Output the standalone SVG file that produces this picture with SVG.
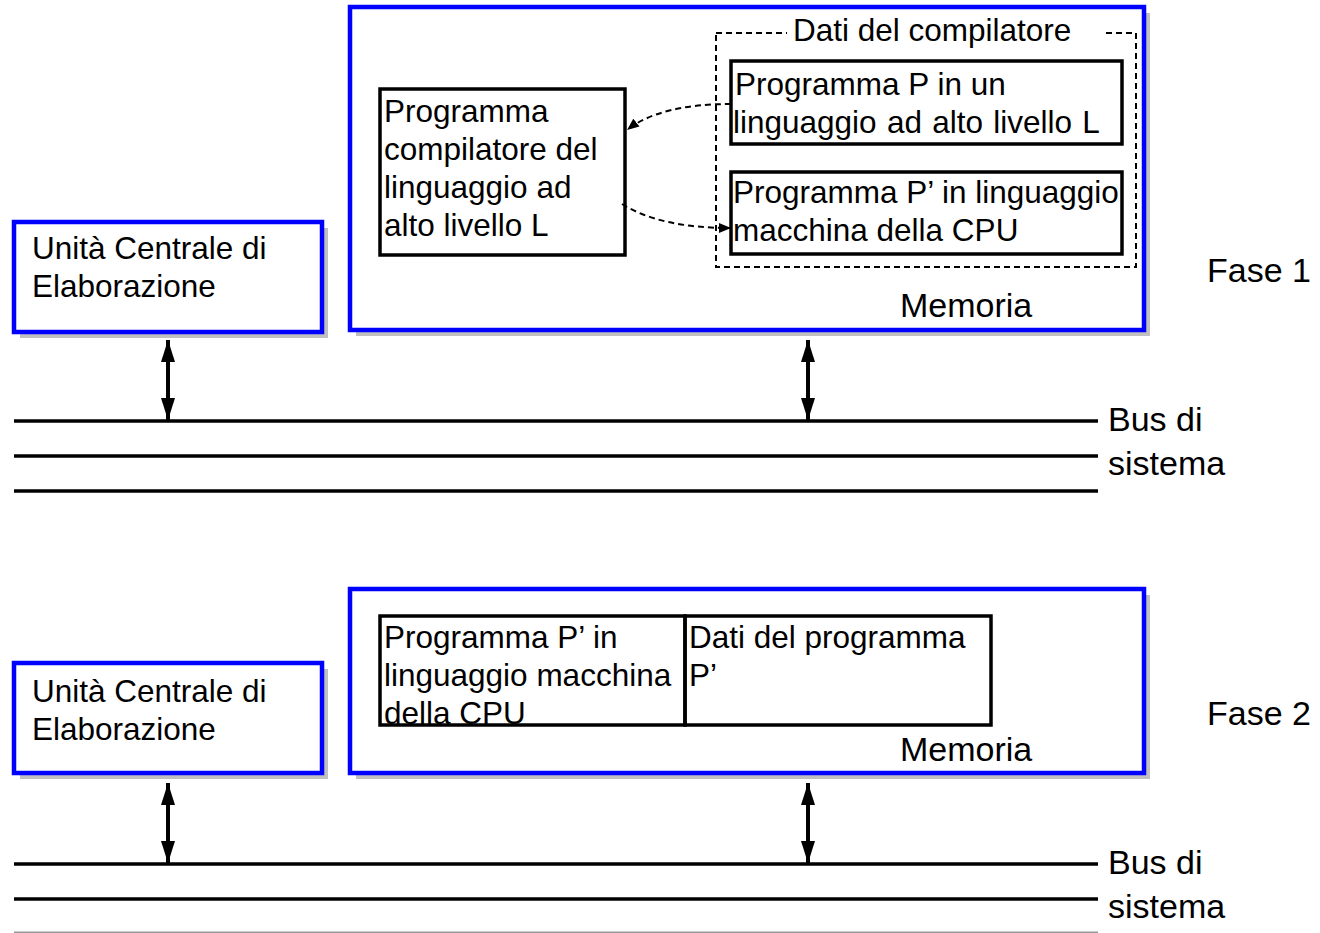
<svg xmlns="http://www.w3.org/2000/svg" width="1320" height="933" viewBox="0 0 1320 933">
<style>
text{font-family:"Liberation Sans",Arial,sans-serif;font-size:31.5px;fill:#000}
.big{font-size:34px}
.blue{fill:#fff;stroke:#0000ff;stroke-width:4.5}
.shadow{fill:#c0c0c0}
.box{fill:#fff;stroke:#000;stroke-width:3.5}
.dash{fill:none;stroke:#000;stroke-width:2;stroke-dasharray:6 4}
.bus{stroke:#000;stroke-width:3.5}
.dbl{stroke:#000;stroke-width:4;marker-start:url(#ah);marker-end:url(#ah)}
.flow{fill:none;stroke:#000;stroke-width:2;stroke-dasharray:6 4;marker-end:url(#sa)}
</style>
<defs>
<marker id="ah" viewBox="0 0 22 14" refX="22" refY="7" markerWidth="22" markerHeight="14" markerUnits="userSpaceOnUse" orient="auto-start-reverse">
<path d="M0,0 L22,7 L0,14 Z" fill="#000"/>
</marker>
<marker id="sa" viewBox="0 0 12 10" refX="12" refY="5" markerWidth="12" markerHeight="10" markerUnits="userSpaceOnUse" orient="auto">
<path d="M0,0 L12,5 L0,10 Z" fill="#000"/>
</marker>
</defs>
<rect width="1320" height="933" fill="#fff"/>

<!-- Fase 1 -->
<g id="cpu1">
<rect class="shadow" x="20" y="228" width="308" height="110"/>
<rect class="blue" x="14" y="222" width="308" height="110"/>
<text x="32" y="259">Unità Centrale di</text>
<text x="32" y="297">Elaborazione</text>
</g>
<g id="mem1">
<rect class="shadow" x="356" y="13" width="794" height="323"/>
<rect class="blue" x="350" y="7" width="794" height="323"/>
<text x="900" y="317" class="big">Memoria</text>
</g>
<g id="compilatore">
<rect class="box" x="380" y="89" width="245" height="166"/>
<text x="384" y="122">Programma</text>
<text x="384" y="160">compilatore del</text>
<text x="384" y="198">linguaggio ad</text>
<text x="384" y="236">alto livello L</text>
</g>
<g id="datiCompilatore">
<rect class="dash" x="716" y="33" width="420" height="234"/>
<rect x="787" y="20" width="318" height="26" fill="#fff"/>
<text x="793" y="41">Dati del compilatore</text>
</g>
<g id="programmaP">
<rect class="box" x="731" y="61" width="391" height="83"/>
<text x="735" y="95">Programma P in un</text>
<text x="733" y="133" word-spacing="1.5">linguaggio ad alto livello L</text>
</g>
<g id="programmaP1">
<rect class="box" x="731" y="172" width="391" height="82"/>
<text x="733" y="203">Programma P’ in linguaggio</text>
<text x="733" y="241">macchina della CPU</text>
</g>
<g id="fase1label"><text x="1207" y="282" class="big">Fase 1</text></g>
<g id="bus1">
<line class="bus" x1="14" y1="421" x2="1098" y2="421"/>
<line class="bus" x1="14" y1="456" x2="1098" y2="456"/>
<line class="bus" x1="14" y1="491" x2="1098" y2="491"/>
<text x="1108" y="431" class="big">Bus di</text>
<text x="1108" y="475" class="big">sistema</text>
</g>

<!-- Fase 2 -->
<g id="cpu2">
<rect class="shadow" x="20" y="669" width="308" height="110"/>
<rect class="blue" x="14" y="663" width="308" height="110"/>
<text x="32" y="702">Unità Centrale di</text>
<text x="32" y="740">Elaborazione</text>
</g>
<g id="mem2">
<rect class="shadow" x="356" y="595" width="794" height="184"/>
<rect class="blue" x="350" y="589" width="794" height="184"/>
<text x="900" y="761" class="big">Memoria</text>
</g>
<g id="programmaP2">
<text x="384" y="648">Programma P’ in</text>
<text x="384" y="686">linguaggio macchina</text>
<text x="384" y="724">della CPU</text>
<rect x="380" y="616" width="305" height="109" fill="none" stroke="#000" stroke-width="3.5"/>
</g>
<g id="datiProgramma">
<rect x="685" y="616" width="306" height="109" fill="none" stroke="#000" stroke-width="3.5"/>
<text x="689" y="648">Dati del programma</text>
<text x="689" y="686">P’</text>
</g>
<g id="fase2label"><text x="1207" y="725" class="big">Fase 2</text></g>
<g id="bus2">
<line class="bus" x1="14" y1="864" x2="1098" y2="864"/>
<line class="bus" x1="14" y1="899" x2="1098" y2="899"/>
<line x1="14" y1="933" x2="1098" y2="933" stroke="#999" stroke-width="3"/>
<text x="1108" y="874" class="big">Bus di</text>
<text x="1108" y="918" class="big">sistema</text>
</g>

<g id="connectors">
<line class="dbl" x1="168" y1="340" x2="168" y2="420"/>
<line class="dbl" x1="808" y1="340" x2="808" y2="420"/>
<line class="dbl" x1="168" y1="783" x2="168" y2="863"/>
<line class="dbl" x1="808" y1="783" x2="808" y2="863"/>
<path class="flow" d="M731,104 Q660,104 627,130"/>
<path class="flow" d="M622,204 Q660,228 731,228"/>
</g>
</svg>
